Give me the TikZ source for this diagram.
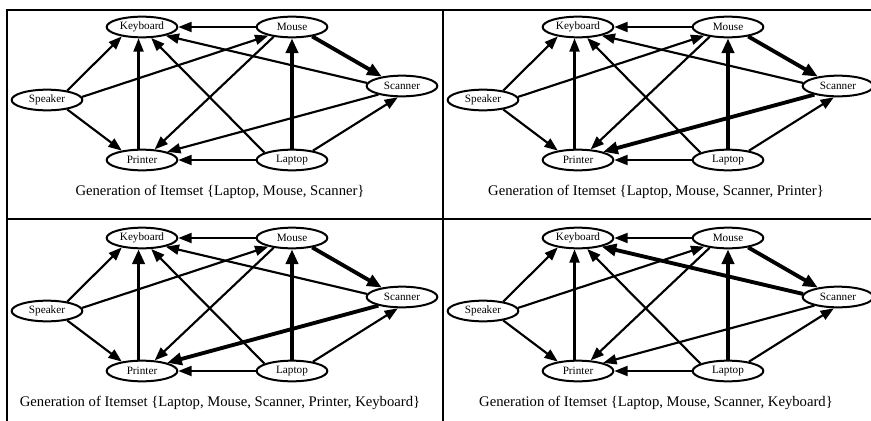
\documentclass[tikz,border=0pt]{standalone}
\usepackage{fontspec}
\setmainfont{Liberation Serif}
\usetikzlibrary{arrows.meta,shapes.geometric}

\tikzset{every picture/.style={line width=1.5pt}}
\tikzset{
  item/.style={draw, ellipse, minimum width=53pt, minimum height=15.5pt, inner sep=0pt, font=\fontsize{8.4}{9}\selectfont},
  link/.style={-{Triangle[length=10pt,width=7.5pt]}, line width=1.6pt},
  hot/.style={-{Triangle[length=11pt,width=9pt]}, line width=2.9pt},
  capt/.style={font=\fontsize{11}{13}\selectfont},
}

\begin{document}
\begin{tikzpicture}[x=0.75pt,y=0.75pt,yscale=-1,xscale=1]
\useasboundingbox (0,0) rectangle (871,421);

%Frame
\draw (7,421) -- (7,9.5) -- (871,9.5) ;
\draw (443,9.5) -- (443,421) ;
\draw (7,219) -- (871,219) ;

%Panel 1
\begin{scope}
\node[item] (kb1) at (142,27) {Keyboard};
\node[item] (ms1) at (292,27) {Mouse};
\node[item] (sp1) at (47,100) {Speaker};
\node[item] (sc1) at (402,86) {Scanner};
\node[item] (pr1) at (142,160) {Printer};
\node[item] (lp1) at (292,160) {Laptop};
\draw[link] (ms1.west) -- (kb1.east) ;
\draw[link] (sp1.25) -- (kb1.205) ;
\draw[link] (sp1.5) -- (ms1.200) ;
\draw[link] (sp1.-25) -- (pr1.155) ;
\draw[link] ([xshift=-2.6pt]pr1.north) -- ([xshift=-2.6pt]kb1.south) ;
\draw[link] (lp1.165) -- (kb1.-50) ;
\draw[link] (sc1.175) -- (kb1.-20) ;
\draw[link] (ms1.208) -- (pr1.40) ;
\draw[hot] (ms1.-25) -- (sc1.155) ;
\draw[hot] (lp1.north) -- (ms1.south) ;
\draw[link] (sc1.200) -- (pr1.18) ;
\draw[link] (lp1.west) -- (pr1.east) ;
\draw[link] (lp1.24) -- (sc1.250) ;
\node[capt] (cap1) at (220,192) {Generation of Itemset \{Laptop, Mouse, Scanner\}};
\end{scope}

%Panel 2
\begin{scope}[shift={(436,0)}]
\node[item] (kb2) at (142,27) {Keyboard};
\node[item] (ms2) at (292,27) {Mouse};
\node[item] (sp2) at (47,100) {Speaker};
\node[item] (sc2) at (402,86) {Scanner};
\node[item] (pr2) at (142,160) {Printer};
\node[item] (lp2) at (292,160) {Laptop};
\draw[link] (ms2.west) -- (kb2.east) ;
\draw[link] (sp2.25) -- (kb2.205) ;
\draw[link] (sp2.5) -- (ms2.200) ;
\draw[link] (sp2.-25) -- (pr2.155) ;
\draw[link] ([xshift=-2.6pt]pr2.north) -- ([xshift=-2.6pt]kb2.south) ;
\draw[link] (lp2.165) -- (kb2.-50) ;
\draw[link] (sc2.175) -- (kb2.-20) ;
\draw[link] (ms2.208) -- (pr2.40) ;
\draw[hot] (ms2.-25) -- (sc2.155) ;
\draw[hot] (lp2.north) -- (ms2.south) ;
\draw[hot] (sc2.200) -- (pr2.18) ;
\draw[link] (lp2.west) -- (pr2.east) ;
\draw[link] (lp2.24) -- (sc2.250) ;
\node[capt] (cap2) at (220,192) {Generation of Itemset \{Laptop, Mouse, Scanner, Printer\}};
\end{scope}

%Panel 3
\begin{scope}[shift={(0,211)}]
\node[item] (kb3) at (142,27) {Keyboard};
\node[item] (ms3) at (292,27) {Mouse};
\node[item] (sp3) at (47,100) {Speaker};
\node[item] (sc3) at (402,86) {Scanner};
\node[item] (pr3) at (142,160) {Printer};
\node[item] (lp3) at (292,160) {Laptop};
\draw[link] (ms3.west) -- (kb3.east) ;
\draw[link] (sp3.25) -- (kb3.205) ;
\draw[link] (sp3.5) -- (ms3.200) ;
\draw[link] (sp3.-25) -- (pr3.155) ;
\draw[hot] ([xshift=-2.6pt]pr3.north) -- ([xshift=-2.6pt]kb3.south) ;
\draw[link] (lp3.165) -- (kb3.-50) ;
\draw[link] (sc3.175) -- (kb3.-20) ;
\draw[link] (ms3.208) -- (pr3.40) ;
\draw[hot] (ms3.-25) -- (sc3.155) ;
\draw[hot] (lp3.north) -- (ms3.south) ;
\draw[hot] (sc3.200) -- (pr3.18) ;
\draw[link] (lp3.west) -- (pr3.east) ;
\draw[link] (lp3.24) -- (sc3.250) ;
\node[capt] (cap3) at (220,192) {Generation of Itemset \{Laptop, Mouse, Scanner, Printer, Keyboard\}};
\end{scope}

%Panel 4
\begin{scope}[shift={(436,211)}]
\node[item] (kb4) at (142,27) {Keyboard};
\node[item] (ms4) at (292,27) {Mouse};
\node[item] (sp4) at (47,100) {Speaker};
\node[item] (sc4) at (402,86) {Scanner};
\node[item] (pr4) at (142,160) {Printer};
\node[item] (lp4) at (292,160) {Laptop};
\draw[link] (ms4.west) -- (kb4.east) ;
\draw[link] (sp4.25) -- (kb4.205) ;
\draw[link] (sp4.5) -- (ms4.200) ;
\draw[link] (sp4.-25) -- (pr4.155) ;
\draw[link] ([xshift=-2.6pt]pr4.north) -- ([xshift=-2.6pt]kb4.south) ;
\draw[link] (lp4.165) -- (kb4.-50) ;
\draw[hot] (sc4.175) -- (kb4.-20) ;
\draw[link] (ms4.208) -- (pr4.40) ;
\draw[hot] (ms4.-25) -- (sc4.155) ;
\draw[hot] (lp4.north) -- (ms4.south) ;
\draw[link] (sc4.200) -- (pr4.18) ;
\draw[link] (lp4.west) -- (pr4.east) ;
\draw[link] (lp4.24) -- (sc4.250) ;
\node[capt] (cap4) at (220,192) {Generation of Itemset \{Laptop, Mouse, Scanner, Keyboard\}};
\end{scope}

\end{tikzpicture}
\end{document}
